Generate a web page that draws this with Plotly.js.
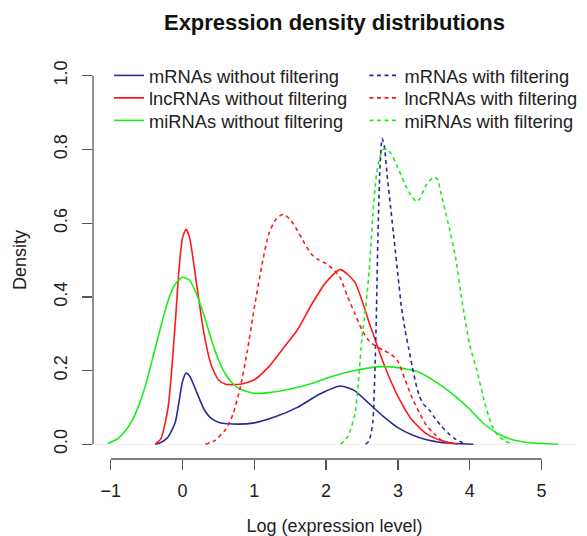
<!DOCTYPE html>
<html>
<head>
<meta charset="utf-8">
<script src="https://cdn.plot.ly/plotly-3.0.1.min.js"></script>
<style>html,body{margin:0;padding:0;background:#fff;}#chart{width:587px;height:536px;}</style>
</head>
<body>
<div id="chart"></div>
<script>
// ---- Data ----
const mrnaWithoutX = [-0.38,-0.3,-0.2,-0.1,0.0,0.05,0.1,0.2,0.3,0.4,0.5,0.7,1.0,1.3,1.6,1.9,2.2,2.4,2.6,2.8,3.0,3.2,3.4,3.6,3.8,4.05];
const mrnaWithoutY = [0,0.005,0.02,0.06,0.17,0.193,0.185,0.14,0.095,0.07,0.06,0.055,0.058,0.075,0.1,0.135,0.158,0.145,0.11,0.075,0.045,0.025,0.012,0.005,0.002,0];

const lncWithoutX = [-0.38,-0.3,-0.2,-0.1,-0.05,0.0,0.05,0.1,0.2,0.3,0.4,0.5,0.6,0.8,1.0,1.2,1.4,1.6,1.8,2.0,2.2,2.4,2.6,2.8,3.0,3.2,3.4,3.6,3.83];
const lncWithoutY = [0,0.015,0.1,0.33,0.47,0.56,0.583,0.56,0.43,0.3,0.215,0.175,0.163,0.163,0.175,0.21,0.26,0.31,0.38,0.44,0.474,0.44,0.33,0.22,0.13,0.065,0.028,0.01,0];

const miWithoutX = [-1.04,-0.9,-0.8,-0.7,-0.6,-0.5,-0.4,-0.3,-0.2,-0.1,0.0,0.1,0.2,0.3,0.4,0.5,0.6,0.7,0.8,1.0,1.2,1.5,1.8,2.1,2.4,2.7,3.0,3.3,3.6,3.8,4.0,4.2,4.4,4.6,4.8,5.0,5.23];
const miWithoutY = [0.002,0.015,0.035,0.065,0.11,0.17,0.245,0.32,0.39,0.435,0.453,0.445,0.405,0.35,0.285,0.23,0.19,0.165,0.15,0.138,0.14,0.15,0.165,0.185,0.2,0.21,0.208,0.195,0.16,0.13,0.095,0.055,0.028,0.012,0.005,0.002,0];

const mrnaWithX = [2.55,2.6,2.65,2.68,2.7,2.72,2.75,2.78,2.81,2.85,2.9,2.95,3.0,3.05,3.1,3.15,3.2,3.25,3.3,3.35,3.4,3.45,3.5,3.6,3.7,3.8,3.9,3.95];
const mrnaWithY = [0,0.01,0.06,0.2,0.35,0.55,0.75,0.83,0.81,0.73,0.64,0.55,0.46,0.37,0.31,0.26,0.21,0.165,0.13,0.11,0.1,0.09,0.075,0.05,0.03,0.014,0.004,0];

const lncWithX = [0.32,0.45,0.6,0.7,0.8,0.9,1.0,1.1,1.2,1.3,1.4,1.5,1.6,1.7,1.8,1.9,2.0,2.1,2.2,2.3,2.4,2.5,2.6,2.7,2.8,2.9,3.0,3.1,3.2,3.3,3.4,3.5,3.6,3.75];
const lncWithY = [0,0.01,0.04,0.08,0.15,0.25,0.37,0.48,0.57,0.61,0.624,0.61,0.58,0.545,0.515,0.5,0.49,0.475,0.45,0.4,0.355,0.31,0.28,0.265,0.255,0.245,0.225,0.175,0.125,0.085,0.05,0.03,0.012,0];

const miWithX = [2.2,2.3,2.4,2.45,2.5,2.55,2.6,2.65,2.7,2.75,2.8,2.85,2.9,3.0,3.1,3.2,3.26,3.3,3.4,3.5,3.55,3.6,3.7,3.8,3.9,4.0,4.1,4.2,4.3,4.4,4.5,4.6];
const miWithY = [0,0.02,0.08,0.17,0.29,0.37,0.47,0.62,0.73,0.78,0.8,0.8,0.79,0.75,0.705,0.67,0.658,0.665,0.705,0.725,0.72,0.68,0.6,0.51,0.38,0.27,0.2,0.12,0.055,0.022,0.008,0];

const seriesNames = ['mRNAs without filtering','lncRNAs without filtering','miRNAs without filtering',
                     'mRNAs with filtering','lncRNAs with filtering','miRNAs with filtering'];
const xTickVals = [-1,0,1,2,3,4,5];
const xTickText = ['\u22121','0','1','2','3','4','5'];
const yTickVals = [0,0.2,0.4,0.6,0.8,1.0];
const yTickText = ['0.0','0.2','0.4','0.6','0.8','1.0'];

// ---- Styles ----
const BLUE = '#2a2a96', RED = '#ff1a1a', GREEN = '#1aee1a';
const FONT = 'Liberation Sans, Arial, Helvetica, sans-serif';
const DASH = '4px,3.5px';

function tr(x, y, name, color, dashed, legend) {
  return {
    x: x, y: y, name: name, type: 'scatter', mode: 'lines',
    line: {color: color, width: 1.6, dash: dashed ? DASH : 'solid', shape: 'spline', smoothing: 0.6},
    legend: legend, hoverinfo: 'skip'
  };
}

const data = [
  tr(mrnaWithoutX, mrnaWithoutY, seriesNames[0], BLUE, false, 'legend'),
  tr(lncWithoutX, lncWithoutY, seriesNames[1], RED, false, 'legend2'),
  tr(miWithoutX, miWithoutY, seriesNames[2], GREEN, false, 'legend3'),
  tr(mrnaWithX, mrnaWithY, seriesNames[3], BLUE, true, 'legend4'),
  tr(lncWithX, lncWithY, seriesNames[4], RED, true, 'legend5'),
  tr(miWithX, miWithY, seriesNames[5], GREEN, true, 'legend6')
];

// legend placement (paper coords): two columns, three rows
const LEG_COL_X = [0.0332, 0.5621];
const LEG_ROW_Y = [1.010, 0.9535, 0.897];
function leg(col, row) {
  return {
    bgcolor: 'rgba(0,0,0,0)', borderwidth: 0, font: {family: FONT, size: 18.3, color: '#222'},
    xanchor: 'left', yanchor: 'top', x: LEG_COL_X[col], y: LEG_ROW_Y[row]
  };
}

const layout = {
  width: 587, height: 536,
  margin: {l: 93, r: 11, t: 61, b: 77, pad: 0, autoexpand: false},
  paper_bgcolor: '#ffffff', plot_bgcolor: '#ffffff',
  font: {family: FONT, size: 18, color: '#222'},
  showlegend: true,
  title: {text: '<b>Expression density distributions</b>', font: {family: FONT, size: 22, color: '#111'},
          x: 0.5, xref: 'paper', xanchor: 'center', y: 1 - 22/536, yref: 'container', yanchor: 'middle'},
  xaxis: {
    range: [-1.246, 5.48], showgrid: false, zeroline: false, showline: false,
    tickmode: 'array', tickvals: xTickVals, ticktext: xTickText,
    ticks: 'outside', ticklen: 10, tickwidth: 1.3, tickcolor: '#555', ticklabelstandoff: 5,
    tickfont: {family: FONT, size: 18, color: '#222'},
    title: {text: 'Log (expression level)', font: {family: FONT, size: 18, color: '#222'}, standoff: 22},
    fixedrange: true
  },
  yaxis: {
    range: [-0.04, 1.04], showgrid: false, zeroline: true, zerolinecolor: '#eeeeee', zerolinewidth: 1,
    showline: false,
    tickmode: 'array', tickvals: yTickVals, ticktext: yTickText, tickangle: -90,
    ticks: 'outside', ticklen: 10, tickwidth: 1.3, tickcolor: '#555', ticklabelstandoff: 8,
    tickfont: {family: FONT, size: 18, color: '#222'},
    title: {text: 'Density', font: {family: FONT, size: 18, color: '#222'}, standoff: 19},
    fixedrange: true
  },
  legend: leg(0, 0), legend2: leg(0, 1), legend3: leg(0, 2),
  legend4: leg(1, 0), legend5: leg(1, 1), legend6: leg(1, 2),
  shapes: [
    {type: 'line', xref: 'x', yref: 'paper', x0: xTickVals[0], x1: xTickVals[xTickVals.length-1], y0: 0, y1: 0,
     line: {color: '#555', width: 1.3}},
    {type: 'line', xref: 'paper', yref: 'y', x0: 0, x1: 0, y0: yTickVals[0], y1: yTickVals[yTickVals.length-1],
     line: {color: '#555', width: 1.3}}
  ]
};

Plotly.newPlot('chart', data, layout, {displayModeBar: false, staticPlot: true});
</script>
</body>
</html>
